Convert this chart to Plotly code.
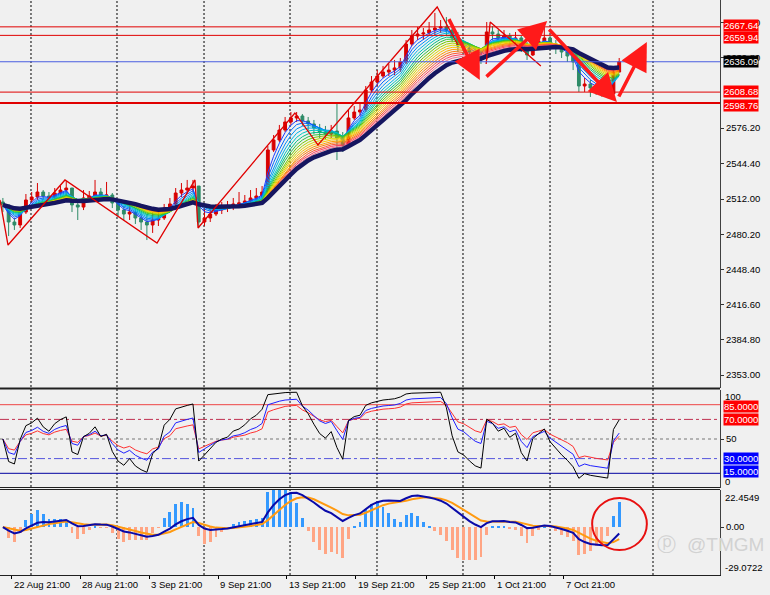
import plotly.graph_objects as go
import pandas as pd

# ---------------- data (XAUUSD, one candle = 8h) ----------------
close = [2506.7, 2491.3, 2488.6, 2500.3, 2511.2, 2513.9, 2518.4, 2514.8, 2513.0, 2517.5,
         2520.2, 2522.0, 2506.7, 2504.8, 2513.0, 2514.8, 2518.4, 2514.8, 2515.7, 2508.5,
         2502.1, 2498.5, 2500.3, 2494.9, 2491.3, 2488.6, 2493.1, 2494.9, 2503.9, 2507.6,
         2517.5, 2520.2, 2522.0, 2523.8, 2491.3, 2494.9, 2498.5, 2502.1, 2503.9, 2504.8,
         2507.6, 2508.5, 2510.3, 2513.0, 2514.8, 2518.4, 2556.4, 2565.4, 2574.4, 2581.7,
         2585.3, 2587.1, 2582.6, 2579.9, 2576.2, 2572.6, 2570.8, 2573.5, 2567.2, 2560.0,
         2585.3, 2590.7, 2592.5, 2610.6, 2617.8, 2623.2, 2626.8, 2628.6, 2630.5, 2635.9,
         2652.1, 2659.4, 2661.2, 2662.1, 2664.8, 2666.6, 2667.5, 2664.8, 2657.6, 2650.3,
         2648.5, 2644.9, 2641.3, 2639.5, 2663.0, 2661.2, 2657.6, 2659.4, 2655.8, 2657.6,
         2648.5, 2642.2, 2652.1, 2654.9, 2657.6, 2652.1, 2648.5, 2644.9, 2641.3, 2635.9,
         2614.2, 2616.0, 2612.4, 2610.6, 2608.8, 2607.0, 2626.8, 2636.09]
high = [2513.0, 2506.7, 2494.9, 2502.1, 2516.6, 2518.4, 2526.5, 2520.2, 2518.4, 2522.0,
        2523.8, 2528.4, 2522.0, 2511.2, 2520.2, 2519.3, 2529.3, 2522.0, 2527.5, 2517.5,
        2511.2, 2505.8, 2506.7, 2503.9, 2500.3, 2498.5, 2500.3, 2500.3, 2507.6, 2513.0,
        2522.0, 2526.5, 2529.3, 2529.3, 2523.8, 2503.9, 2505.8, 2507.6, 2509.4, 2510.3,
        2513.0, 2518.4, 2515.7, 2520.2, 2522.0, 2523.8, 2560.0, 2569.9, 2579.0, 2586.2,
        2590.7, 2590.7, 2588.9, 2586.2, 2583.5, 2579.9, 2578.1, 2579.0, 2598.8, 2572.6,
        2592.5, 2596.1, 2597.9, 2614.2, 2623.2, 2628.6, 2632.3, 2634.1, 2637.7, 2639.5,
        2655.8, 2664.8, 2667.5, 2666.6, 2672.0, 2680.2, 2673.8, 2676.5, 2668.4, 2663.0,
        2655.8, 2652.1, 2648.5, 2646.7, 2672.0, 2668.4, 2664.8, 2664.8, 2662.1, 2663.0,
        2659.4, 2653.9, 2655.8, 2659.4, 2669.3, 2659.4, 2655.8, 2652.1, 2648.5, 2644.9,
        2637.7, 2621.4, 2619.6, 2616.0, 2614.2, 2612.4, 2630.5, 2639.5]
low = [2500.3, 2478.6, 2484.1, 2485.9, 2498.5, 2508.5, 2511.2, 2511.2, 2508.5, 2511.2,
       2514.8, 2514.8, 2500.3, 2493.1, 2502.1, 2509.4, 2512.1, 2510.3, 2511.2, 2503.9,
       2496.7, 2493.1, 2493.1, 2489.5, 2484.1, 2475.0, 2481.4, 2487.7, 2493.1, 2500.3,
       2505.8, 2513.9, 2516.6, 2518.4, 2485.9, 2487.7, 2491.3, 2496.7, 2498.5, 2500.3,
       2502.1, 2503.9, 2505.8, 2506.7, 2509.4, 2512.1, 2516.6, 2554.6, 2563.6, 2572.6,
       2579.0, 2581.7, 2578.1, 2574.4, 2570.8, 2567.2, 2565.4, 2567.2, 2547.3, 2554.6,
       2558.2, 2583.5, 2587.1, 2590.7, 2608.8, 2614.2, 2621.4, 2623.2, 2624.1, 2626.8,
       2634.1, 2650.3, 2655.8, 2655.8, 2659.4, 2660.3, 2662.1, 2659.4, 2653.9, 2644.9,
       2643.1, 2639.5, 2635.9, 2634.1, 2637.7, 2655.8, 2652.1, 2653.9, 2651.2, 2652.1,
       2644.9, 2637.7, 2641.3, 2649.4, 2650.3, 2646.7, 2643.1, 2639.5, 2635.9, 2628.6,
       2608.8, 2608.8, 2604.3, 2606.1, 2604.3, 2603.3, 2605.2, 2626.8]
first_open = 2509.4

date_labels = ["22 Aug 21:00", "28 Aug 21:00", "3 Sep 21:00", "9 Sep 21:00", "13 Sep 21:00",
               "19 Sep 21:00", "25 Sep 21:00", "1 Oct 21:00", "7 Oct 21:00"]
date_pos = [1.58, 13.39, 25.37, 37.35, 49.3, 61.3, 73.6, 85.4, 97.4]
grid_pos = [4.88, 19.81, 34.92, 49.85, 64.95, 79.88, 94.99, 112.87]

price_ticks = [2353.00, 2384.80, 2416.60, 2448.40, 2480.20, 2512.00, 2544.40, 2576.20, 2639.80, 2671.60]
price_range = [2341.3, 2691.9]
red_levels = [2667.64, 2659.94, 2608.68, 2598.76]
level_shift = [1, -2, 1, -2]
current_price = 2636.09
rsi_levels = [85, 70, 50, 30, 15]
macd_top = 22.4549
macd_bottom = -29.0722

# hand-drawn zigzag / arrows (candle index, price)
zz_x = [-0.5, 0.89, 10.78, 26.76, 33.35, 33.88, 50.7, 54.7, 75.4, 79.0]
zz_y = [2511.2, 2470.5, 2529.3, 2472.3, 2529.3, 2485.9, 2589.8, 2560.9, 2685.6, 2651.2]
tri_x = [83.9, 84.6, 93.4]
tri_y = [2634.1, 2672.0, 2632.3]
arrows = [  # (tail_x, tail_y, head_x, head_y)
    (77.3, 2676.0, 82.8, 2619.6),
    (83.7, 2621.4, 94.5, 2672.9),
    (94.6, 2666.6, 106.6, 2599.7),
    (106.8, 2603.3, 111.8, 2653.9),
]
circle_box = (102.3, 111.8, -13.9, 17.6)

# ---------------- indicators ----------------
idx = list(range(len(close)))
s = pd.Series(close)
opens = [first_open] + close[:-1]

rainbow_periods = [3, 4, 5, 6, 7, 8, 9, 10, 11, 12, 13, 14, 15, 16, 17, 18]
rainbow_colors = ['#1f3cff', '#0066ff', '#0090f8', '#00b4e8', '#00c8c0', '#00c080', '#30c040', '#70cc00',
                  '#b0d400', '#e0d800', '#ffc000', '#ff9c00', '#ff7a10', '#ff5530', '#ff4060', '#f07090']
navy_period = 20


def ema(x, n):
    return x.ewm(span=n, adjust=False).mean()


def rsi(x, n):
    d = x.diff().fillna(0).tolist()
    seed = sum(abs(v) for v in d) / len(d) / 2
    au, ad, out = seed, seed, []
    for v in d:
        au = (au * (n - 1) + max(v, 0)) / n
        ad = (ad * (n - 1) + max(-v, 0)) / n
        out.append(100 * au / (au + ad) if au + ad > 0 else 50)
    return out


rsi_black = rsi(s, 5)
rsi_blue = rsi(s, 9)
rsi_red = rsi(s, 13)
macd = ema(s, 6) - ema(s, 13)
signal = ema(macd, 5)
hist = 4.5 * (macd - signal)

# ---------------- figure ----------------
PW, PH = 720, 575
fig = go.Figure()


def py(px):
    return 1 - px / PH


for n, c in zip(rainbow_periods, rainbow_colors):
    fig.add_trace(go.Scatter(x=idx, y=ema(s, n), mode='lines', line=dict(color=c, width=1),
                             hoverinfo='skip', showlegend=False, xaxis='x', yaxis='y'))
fig.add_trace(go.Scatter(x=idx, y=ema(s, navy_period), mode='lines',
                         line=dict(color='#161660', width=4.5), hoverinfo='skip',
                         showlegend=False, xaxis='x', yaxis='y'))
fig.add_trace(go.Candlestick(x=idx, open=opens, high=high, low=low, close=close,
                             increasing=dict(line=dict(color='#d80000', width=1), fillcolor='#d80000'),
                             decreasing=dict(line=dict(color='#2e8b67', width=1), fillcolor='#2e8b67'),
                             whiskerwidth=0, showlegend=False, xaxis='x', yaxis='y'))
fig.add_trace(go.Scatter(x=zz_x, y=zz_y, mode='lines', line=dict(color='#e00000', width=1.3),
                         hoverinfo='skip', showlegend=False, xaxis='x', yaxis='y'))
fig.add_trace(go.Scatter(x=tri_x, y=tri_y, mode='lines', line=dict(color='#e00000', width=1.3),
                         hoverinfo='skip', showlegend=False, xaxis='x', yaxis='y'))

# RSI
for ser, c in [(rsi_red, '#ff3030'), (rsi_blue, '#2020ff'), (rsi_black, '#000000')]:
    fig.add_trace(go.Scatter(x=idx, y=ser, mode='lines', line=dict(color=c, width=1),
                             hoverinfo='skip', showlegend=False, xaxis='x2', yaxis='y2'))

# MACD
hist_colors = ['#3399ff' if v >= 0 else '#ffa584' for v in hist]
fig.add_trace(go.Bar(x=idx, y=hist, marker=dict(color=hist_colors, line=dict(width=0)), width=0.5,
                     showlegend=False, hoverinfo='skip', xaxis='x3', yaxis='y3'))
fig.add_trace(go.Scatter(x=idx, y=signal, mode='lines', line=dict(color='#ff9a10', width=2),
                         hoverinfo='skip', showlegend=False, xaxis='x3', yaxis='y3'))
fig.add_trace(go.Scatter(x=idx, y=macd, mode='lines', line=dict(color='#0a0aa8', width=2),
                         hoverinfo='skip', showlegend=False, xaxis='x3', yaxis='y3'))

shapes = []
for g in grid_pos:
    shapes.append(dict(type='line', xref='x', yref='paper', x0=g, x1=g, y0=0, y1=1,
                       line=dict(color='#000000', width=1, dash='2px,2px'), layer='below'))
for lv in red_levels:
    shapes.append(dict(type='line', xref='paper', yref='y', x0=0, x1=1, y0=lv, y1=lv,
                       line=dict(color='#e00000', width=2 if lv == 2598.76 else 1)))
shapes.append(dict(type='line', xref='paper', yref='y', x0=0, x1=1, y0=current_price, y1=current_price,
                   line=dict(color='#4a5ee0', width=1)))
rsi_styles = {85: ('#ee4444', 'solid'), 70: ('#c03050', 'dashdot'), 50: ('#777777', '3px,3px'),
              30: ('#5555dd', 'dashdot'), 15: ('#0000a0', 'solid')}
for lv in rsi_levels:
    c, d = rsi_styles[lv]
    shapes.append(dict(type='line', xref='paper', yref='y2', x0=0, x1=1, y0=lv, y1=lv,
                       line=dict(color=c, width=1, dash=d), layer='below'))
# panel separators
shapes.append(dict(type='line', xref='paper', yref='paper', x0=0, x1=1, y0=py(388.5), y1=py(388.5),
                   line=dict(color='#202020', width=2)))
shapes.append(dict(type='line', xref='paper', yref='paper', x0=0, x1=1, y0=py(487.5), y1=py(487.5),
                   line=dict(color='#202020', width=1)))
shapes.append(dict(type='line', xref='paper', yref='paper', x0=0, x1=1, y0=py(489.5), y1=py(489.5),
                   line=dict(color='#202020', width=1)))
shapes.append(dict(type='circle', xref='x3', yref='y3', x0=circle_box[0], x1=circle_box[1],
                   y0=circle_box[2], y1=circle_box[3], line=dict(color='#e81010', width=2)))

FONT = 'Liberation Sans, Arial, sans-serif'
ann = []


def box(text, y, yref, bg, shift=0):
    ann.append(dict(x=1, xref='paper', y=y, yref=yref, text=text, showarrow=False, xanchor='left',
                    xshift=3, yshift=shift, bgcolor=bg, borderpad=0,
                    font=dict(color='white', size=9.5, family=FONT)))


for lv, sh in zip(red_levels, level_shift):
    box(f'{lv:.2f}', lv, 'y', '#ff0000', sh)
box(f'{current_price:.2f}', current_price, 'y', '#000000')
box('85.0000', 85, 'y2', '#ff0000', -2)
box('70.0000', 70, 'y2', '#ff0000')
box('30.0000', 30, 'y2', '#0000ff')
box('15.0000', 15, 'y2', '#0000ff', 2)


def side_label(text, y, yref, anchor, shift=0):
    ann.append(dict(x=1, xref='paper', y=y, yref=yref, text=text, showarrow=False, xanchor='left',
                    yanchor=anchor, xshift=3, yshift=shift, font=dict(color='black', size=9.5, family=FONT)))


side_label('100', 100, 'y2', 'top', 1)
side_label('0', 0, 'y2', 'bottom', -1)
side_label(f'{macd_top:.4f}', macd_top, 'y3', 'top')
side_label(f'{macd_bottom:.4f}', macd_bottom, 'y3', 'bottom')

for lab, p in zip(date_labels, date_pos):
    ann.append(dict(x=p, xref='x3', y=0, yref='paper', text=lab, showarrow=False, xanchor='left',
                    yanchor='top', yshift=-2, font=dict(color='black', size=9.5, family=FONT)))

for tx, ty, hx, hy in arrows:
    ann.append(dict(x=hx, y=hy, ax=tx, ay=ty, xref='x', yref='y', axref='x', ayref='y', text='',
                    showarrow=True, arrowhead=2, arrowsize=1.6, arrowwidth=3.5, arrowcolor='#ff1a1a'))

ann.append(dict(x=1.008, xref='paper', y=py(557), yref='paper', text='@TMGM', showarrow=False,
                xanchor='center', font=dict(color='#d2d2d2', size=19, family=FONT)))
ann.append(dict(x=0.925, xref='paper', y=py(557), yref='paper', text='ⓟ', showarrow=False,
                xanchor='center', font=dict(color='#d2d2d2', size=19, family='DejaVu Sans')))

axis_common = dict(range=[-0.5, 124.5], showgrid=False, zeroline=False, showline=False,
                   fixedrange=True)
tickfont = dict(color='black', size=9.5, family=FONT)
fig.update_layout(
    width=770, height=595, margin=dict(l=0, r=50, t=0, b=20),
    paper_bgcolor='#f0f0f0', plot_bgcolor='#f0f0f0', showlegend=False, bargap=0,
    xaxis=dict(domain=[0, 1], anchor='y', showticklabels=False, rangeslider=dict(visible=False), **axis_common),
    xaxis2=dict(domain=[0, 1], anchor='y2', matches='x', showticklabels=False, **axis_common),
    xaxis3=dict(domain=[0, 1], anchor='y3', matches='x', showticklabels=False, ticks='outside',
                tickvals=date_pos, ticklen=3, tickcolor='black',
                range=[-0.5, 124.5], showgrid=False, zeroline=False, showline=True, linecolor='#202020'),
    yaxis=dict(domain=[py(388), 1], anchor='x', side='right', range=price_range, tickvals=price_ticks,
               ticktext=[f'{v:.2f}' for v in price_ticks], ticks='outside', ticklen=3, tickcolor='#333',
               tickfont=tickfont, showgrid=False, zeroline=False, showline=True, linecolor='#404040'),
    yaxis2=dict(domain=[py(488), py(390)], anchor='x2', side='right', range=[0, 100], tickvals=[50],
                ticktext=['50'], ticks='outside', ticklen=3, tickcolor='#333', tickfont=tickfont,
                showgrid=False, zeroline=False, showline=True, linecolor='#404040'),
    yaxis3=dict(domain=[0, py(490)], anchor='x3', side='right', range=[macd_bottom, macd_top], tickvals=[0],
                ticktext=['0.00'], ticks='outside', ticklen=3, tickcolor='#333', tickfont=tickfont,
                showgrid=False, zeroline=False, showline=True, linecolor='#404040'),
    shapes=shapes, annotations=ann,
)
fig.write_html('out.html', config={'displayModeBar': False},
               post_script="document.body.style.margin='0px';document.body.style.background='#f0f0f0';")
